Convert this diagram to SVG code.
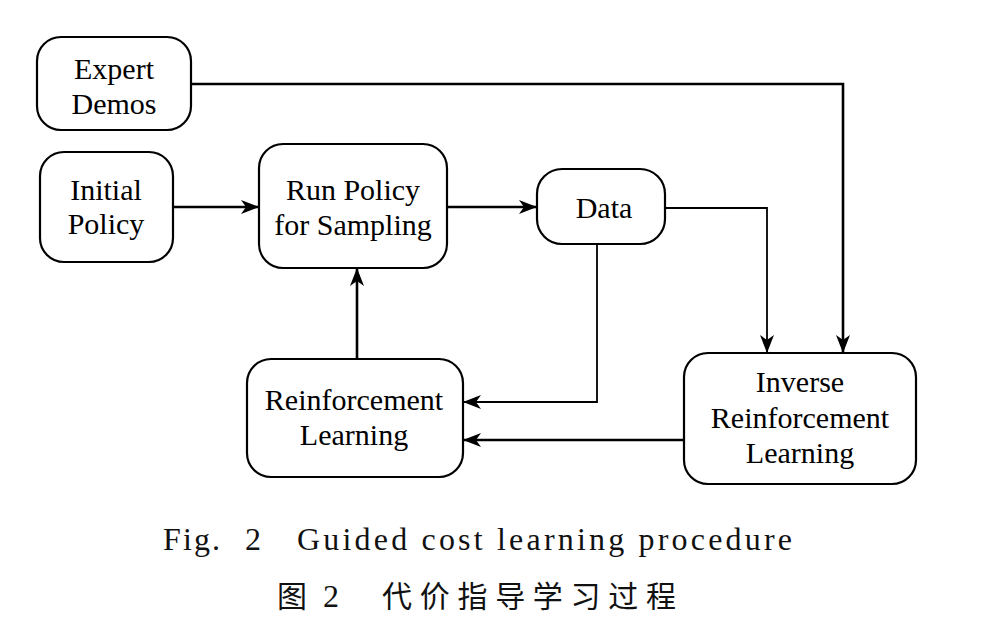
<svg xmlns="http://www.w3.org/2000/svg" width="987" height="633" viewBox="0 0 987 633">
<style>
.box{fill:#fff;stroke:#000;stroke-width:2.2}
.t{font-family:"Liberation Serif","Times New Roman",serif;font-size:30px;fill:#000;text-anchor:middle}
.c{fill:none;stroke:#000;stroke-width:2.6}
.c.thin{stroke-width:1.8}
.cap{font-family:"Liberation Serif","Times New Roman",serif;font-size:32px;fill:#111}
.cjk{font-family:"Noto Sans CJK SC",sans-serif;font-size:30px;fill:#111}
</style>
<defs>
<marker id="ah" markerUnits="userSpaceOnUse" markerWidth="18" markerHeight="14" viewBox="0 0 18 14" refX="17" refY="7" orient="auto">
<path d="M0,0 L18,7 L0,14 L5,7 z" fill="#000"/>
</marker>
</defs>
<rect width="987" height="633" fill="#fff"/>
<g id="connectors">
<path class="c" d="M191,84 H843 V352" marker-end="url(#ah)"/>
<path class="c" d="M173,207 H258" marker-end="url(#ah)"/>
<path class="c" d="M447,207 H536" marker-end="url(#ah)"/>
<path class="c thin" d="M665,208 H767 V352" marker-end="url(#ah)"/>
<path class="c thin" d="M597,244 V402 H464" marker-end="url(#ah)"/>
<path class="c" d="M684,440 H464" marker-end="url(#ah)"/>
<path class="c" d="M357,359 V269" marker-end="url(#ah)"/>
</g>
<g id="expert-demos">
<rect class="box" x="37" y="37" width="154" height="93" rx="24"/>
<text class="t" x="114" y="79">Expert</text>
<text class="t" x="114" y="114">Demos</text>
</g>
<g id="initial-policy">
<rect class="box" x="40" y="152" width="133" height="110" rx="24"/>
<text class="t" x="106" y="200">Initial</text>
<text class="t" x="106" y="234">Policy</text>
</g>
<g id="run-policy">
<rect class="box" x="259" y="144" width="188" height="124" rx="24"/>
<text class="t" x="353" y="200">Run Policy</text>
<text class="t" x="353" y="235">for Sampling</text>
</g>
<g id="data">
<rect class="box" x="537" y="169" width="128" height="75" rx="25"/>
<text class="t" x="604" y="218">Data</text>
</g>
<g id="reinforcement-learning">
<rect class="box" x="247" y="359" width="216" height="118" rx="24"/>
<text class="t" x="354" y="410">Reinforcement</text>
<text class="t" x="354" y="445">Learning</text>
</g>
<g id="inverse-reinforcement-learning">
<rect class="box" x="684" y="353" width="232" height="131" rx="24"/>
<text class="t" x="800" y="392">Inverse</text>
<text class="t" x="800" y="428">Reinforcement</text>
<text class="t" x="800" y="463">Learning</text>
</g>
<g id="caption">
<text class="cap" x="163" y="550" textLength="57" lengthAdjust="spacing">Fig.</text>
<text class="cap" x="245" y="550">2</text>
<text class="cap" x="297" y="550" textLength="495" lengthAdjust="spacing">Guided cost learning procedure</text>
<text class="cjk" x="277" y="607">图</text>
<text class="cap" x="323" y="607">2</text>
<text class="cjk" x="382" y="607" textLength="294" lengthAdjust="spacing">代价指导学习过程</text>
</g>
</svg>
